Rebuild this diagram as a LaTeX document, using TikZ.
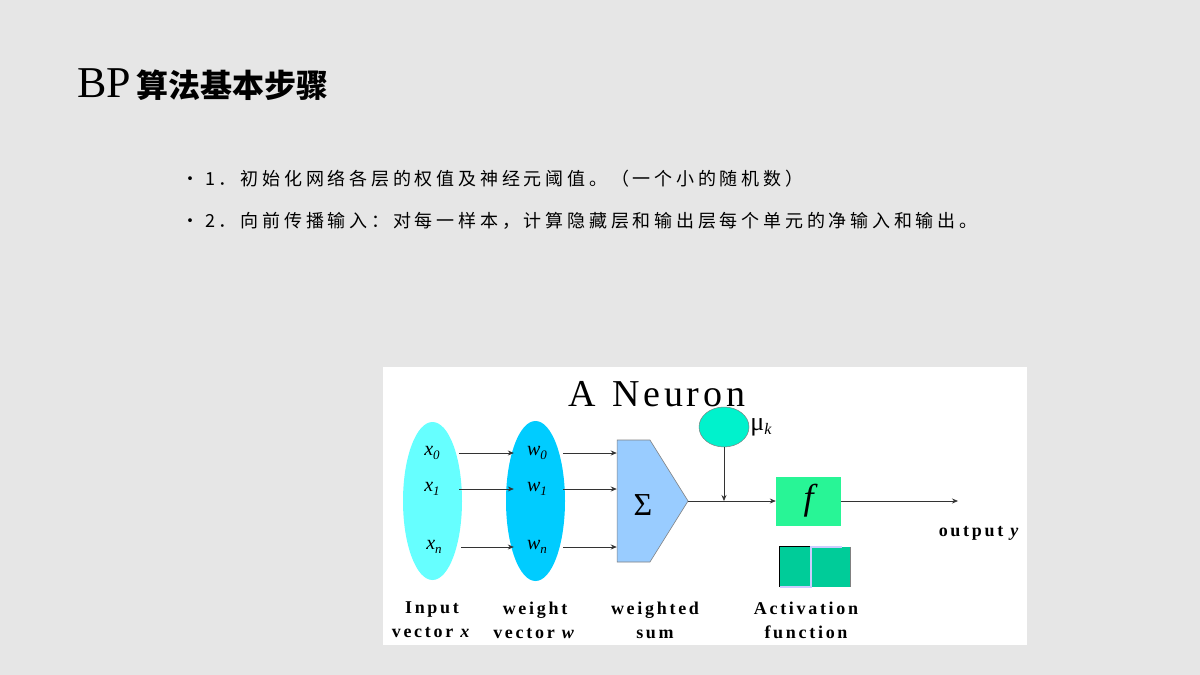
\documentclass[tikz,border=0pt]{standalone}
\usepackage{fontspec}
\setmainfont{Liberation Serif}
\newfontfamily\cjk{Noto Sans CJK SC}
\newfontfamily\cjkspaced[LetterSpace=21]{Noto Sans CJK SC}
\newfontfamily\spaced[LetterSpace=15]{Liberation Serif}
\newfontfamily\widened[LetterSpace=10]{Liberation Serif}
\usepackage{tikz}
\usetikzlibrary{arrows.meta,shapes}
\definecolor{slidebg}{RGB}{230,230,230}
\definecolor{incyan}{RGB}{102,255,255}
\definecolor{wcyan}{RGB}{0,204,255}
\definecolor{sumblue}{RGB}{153,204,255}
\definecolor{mugreen}{RGB}{0,242,204}
\definecolor{fgreen}{RGB}{40,245,150}
\definecolor{actteal}{RGB}{0,204,153}
\definecolor{lavender}{RGB}{204,204,255}
\newcommand{\vsub}[1]{\raisebox{-0.45ex}{\fontsize{13}{13}\selectfont\itshape #1}}

\begin{document}
\begin{tikzpicture}[x=1pt,y=-1pt,
  arr/.style={->,>={Stealth[length=6pt,width=5pt]},line width=0.7pt,draw=black!80},
  veclabel/.style={minimum width=46pt,inner sep=0,font=\fontsize{20}{20}\selectfont\itshape},
  caption/.style={align=center,inner sep=0,font=\spaced\bfseries\fontsize{18}{24}\selectfont}]

\fill[slidebg] (0,0) rectangle (1200,675);
\useasboundingbox (0,0) rectangle (1200,675);
\fill[white] (383,367) rectangle (1027,645);

\node[anchor=base west,inner sep=0] (title) at (77,97) {\fontsize{44}{44}\selectfont BP\hspace{5pt}{\cjk\bfseries\fontsize{32}{32}\selectfont 算法基本步骤}};
\node[anchor=base west,inner sep=0] (step1) at (181,185) {\cjkspaced\fontsize{18}{18}\selectfont •\hspace{6pt}1．初始化网络各层的权值及神经元阈值。（一个小的随机数）};
\node[anchor=base west,inner sep=0] (step2) at (181,227) {\cjkspaced\fontsize{18}{18}\selectfont •\hspace{6pt}2．向前传播输入：对每一样本，计算隐藏层和输出层每个单元的净输入和输出。};

\node[anchor=base,inner sep=0] (neuron) at (657,406) {\widened\fontsize{38}{38}\selectfont A\hspace{16pt}Neuron};

\node[ellipse,fill=incyan,minimum width=59pt,minimum height=158pt,inner sep=0] (invec) at (432.5,501) {};
\node[ellipse,fill=wcyan,minimum width=59pt,minimum height=160pt,inner sep=0] (wvec) at (535.5,501) {};

\node[veclabel] (x0) at (432,453) {x\vsub{0}};
\node[veclabel] (x1) at (432,489) {x\vsub{1}};
\node[veclabel] (xn) at (434,547) {x\vsub{n}};
\node[veclabel] (w0) at (537,453) {w\vsub{0}};
\node[veclabel] (w1) at (537,489) {w\vsub{1}};
\node[veclabel] (wn) at (537,547) {w\vsub{n}};

\node[signal,signal to=east,signal pointer angle=116,minimum width=71pt,minimum height=122pt,inner sep=0,fill=sumblue,draw=gray,line width=0.6pt] (sum) at (633.5,501) {};
\node[inner sep=0] (sigma) at (643,505) {\fontsize{32}{32}\selectfont Σ};

\foreach \i in {0,1,n} {
  \draw[arr,shorten <=4pt] (x\i.east) -- (x\i.east -| w\i.west);
  \draw[arr,shorten <=3pt] (w\i.east) -- (w\i.east -| sum.west);
}

\node[ellipse,fill=mugreen,draw=gray,line width=0.5pt,minimum width=50pt,minimum height=40pt,inner sep=0] (mu) at (724,427) {};
\node[anchor=west,inner sep=1pt] (mulabel) at (mu.east) {\fontsize{26}{26}\selectfont μ\raisebox{-0.35ex}{\fontsize{16}{16}\selectfont\itshape k}};

\node[fill=fgreen,minimum width=65pt,minimum height=49pt,inner sep=0] (fn) at (808.5,501) {\fontsize{36}{36}\selectfont\itshape f};
\coordinate (yend) at (958,501);

\draw[arr] (sum.east) -- (fn.west);
\draw[arr] (mu.south) -- (mu.south |- sum.east);
\draw[arr] (fn.east) -- (yend);
\node[inner sep=0] (outy) at (980,533) {\spaced\bfseries\fontsize{18}{18}\selectfont output \textit{y}};

\node[fill=actteal,minimum width=70pt,minimum height=40pt,inner sep=0] (stepicon) at (815,567) {};
\draw[black,line width=0.9pt] (stepicon.south west) -- (stepicon.north west) -- ++(31,0);
\draw[lavender,line width=2pt] (stepicon.south west) -- ++(31,0) -- ++(0,-40) -- ++(31,0);
\draw[gray,line width=0.9pt] (stepicon.north east) -- (stepicon.south east);

\node[caption] (incap) at (432,620) {Input\\vector \textit{x}};
\node[caption] (wcap) at (535,620) {weight\\vector \textit{w}};
\node[caption] (sumcap) at (655,620) {weighted\\sum};
\node[caption] (actcap) at (806,620) {Activation\\function};
\end{tikzpicture}
\end{document}
